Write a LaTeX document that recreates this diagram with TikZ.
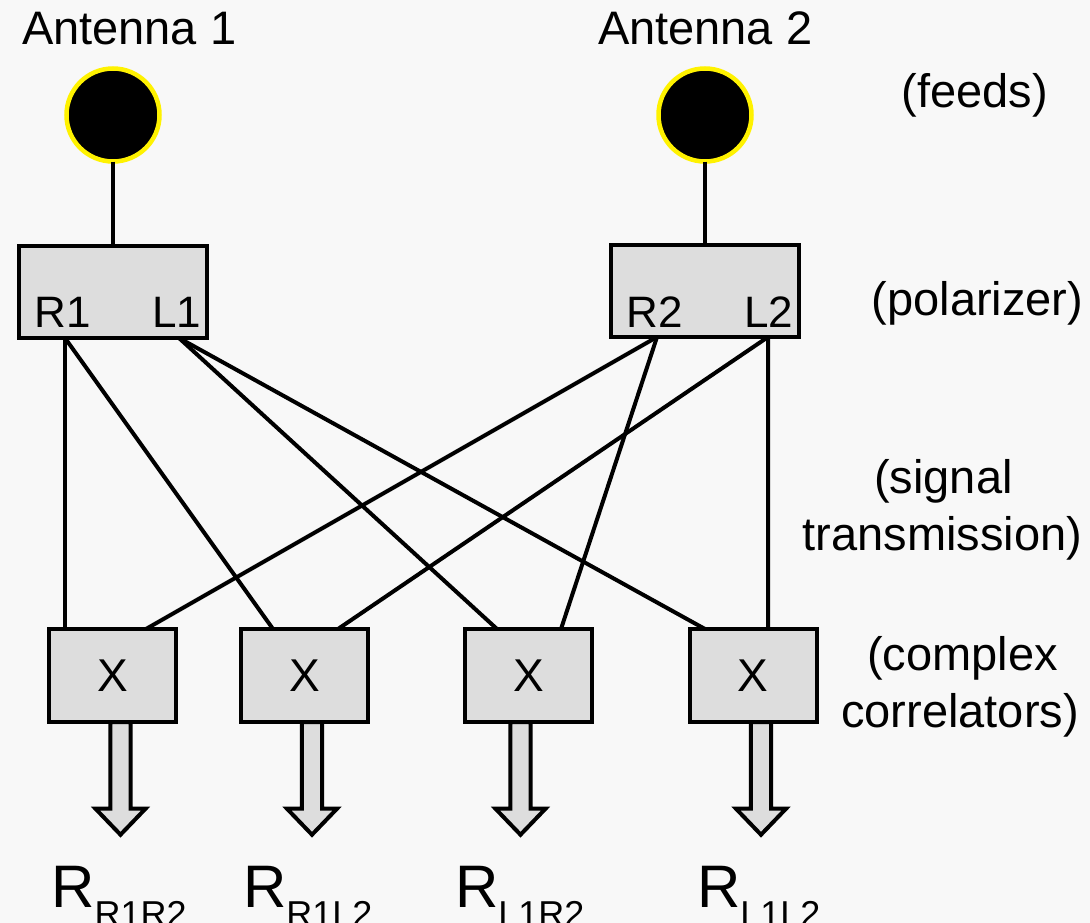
\documentclass[tikz,border=0pt]{standalone}
\usepackage{fontspec}
\setmainfont{Liberation Sans}
\definecolor{bg}{HTML}{F8F8F8}
\definecolor{boxfill}{HTML}{DDDDDD}
\begin{document}
\begin{tikzpicture}[x=1bp,y=-1bp,
  feed/.style={circle, fill=black, draw=yellow, line width=4.5bp, minimum size=93bp, inner sep=0pt, outer sep=0pt},
  polbox/.style={draw=black, fill=boxfill, line width=4bp, minimum width=188bp, minimum height=92bp, inner sep=0pt, outer sep=0pt},
  corrbox/.style={draw=black, fill=boxfill, line width=4bp, minimum width=127bp, minimum height=93bp, inner sep=0pt, outer sep=0pt, font=\fontsize{46bp}{55bp}\selectfont},
  lbl/.style={inner sep=0pt, outer sep=0pt, anchor=base, font=\fontsize{47bp}{56bp}\selectfont},
  antlbl/.style={inner sep=0pt, outer sep=0pt, anchor=base west, font=\fontsize{47bp}{56bp}\selectfont},
  port/.style={inner sep=0pt, outer sep=0pt, anchor=base west, font=\fontsize{44bp}{52bp}\selectfont},
  outlbl/.style={inner sep=0pt, outer sep=0pt, anchor=base west},
  wire/.style={draw=black, line width=4bp},
  blockarrow/.style={draw=black, fill=boxfill, line width=4bp, line join=miter}
]
\path[use as bounding box, fill=bg] (0,0) rectangle (1090,923);
\clip (0,0) rectangle (1090,923);

% antenna labels
\node[antlbl] (t1) at (22,44) {Antenna 1};
\node[antlbl] (t2) at (598,44) {Antenna 2};

% feeds
\node[feed] (a1) at (113,115) {};
\node[feed] (a2) at (705,115) {};

% polarizers
\node[polbox] (p1) at (113,292) {};
\node[polbox] (p2) at (704.5,291) {};
\node[port] (r1t) at (34.5,327) {R1};
\node[port] (l1t) at (152,327) {L1};
\node[port] (r2t) at (626.5,327) {R2};
\node[port] (l2t) at (744,327) {L2};

% correlators
\node[corrbox] (c1) at (112.5,675.5) {X};
\node[corrbox] (c2) at (304.5,675.5) {X};
\node[corrbox] (c3) at (528.5,675.5) {X};
\node[corrbox] (c4) at (753,675.5) {X};

% ports
\coordinate (R1) at ([xshift=-48bp]p1.south);
\coordinate (L1) at ([xshift=66bp]p1.south);
\coordinate (R2) at ([xshift=-47.5bp]p2.south);
\coordinate (L2) at ([xshift=63.5bp]p2.south);
\coordinate (c1a) at ([xshift=-47.5bp]c1.north);
\coordinate (c1b) at ([xshift=33.5bp]c1.north);
\coordinate (c2a) at ([xshift=-31.5bp]c2.north);
\coordinate (c2b) at ([xshift=33.5bp]c2.north);
\coordinate (c3a) at ([xshift=-31.5bp]c3.north);
\coordinate (c3b) at ([xshift=32.5bp]c3.north);
\coordinate (c4a) at ([xshift=-48bp]c4.north);
\coordinate (c4b) at ([xshift=15bp]c4.north);

% feed to polarizer
\draw[wire] (a1.south) -- (a1.south |- p1.north);
\draw[wire] (a2.south) -- (a2.south |- p2.north);

% signal transmission
\draw[wire] (R1) -- (c1a);
\draw[wire] (R1) -- (c2a);
\draw[wire] (L1) -- (c3a);
\draw[wire] (L1) -- (c4a);
\draw[wire] (R2) -- (c1b);
\draw[wire] (R2) -- (c3b);
\draw[wire] (L2) -- (c2b);
\draw[wire] (L2) -- (c4b);

% output block arrows
\foreach \c/\dx in {c1/8, c2/7.5, c3/-8, c4/8}{
  \draw[blockarrow] ([xshift=\dx bp]\c.south) ++(-10.2,0) -- ++(0,86.7) -- ++(-14.8,0)
     -- ++(25,26) -- ++(25,-26) -- ++(-14.8,0) -- ++(0,-86.7) -- cycle;
}

% output labels
\node[outlbl] (o1) at (51.3,907) {\fontsize{60bp}{72bp}\selectfont R\raisebox{-19bp}{\fontsize{36bp}{43bp}\selectfont R1R2}};
\node[outlbl] (o2) at (243,907) {\fontsize{60bp}{72bp}\selectfont R\raisebox{-19bp}{\fontsize{36bp}{43bp}\selectfont R1L2}};
\node[outlbl] (o3) at (455,907) {\fontsize{60bp}{72bp}\selectfont R\raisebox{-19bp}{\fontsize{36bp}{43bp}\selectfont L1R2}};
\node[outlbl] (o4) at (697,907) {\fontsize{60bp}{72bp}\selectfont R\raisebox{-19bp}{\fontsize{36bp}{43bp}\selectfont L1L2}};

% right-hand annotations
\node[lbl] (s1) at (975,107) {(feeds)};
\node[lbl] (s2) at (977.5,315) {(polarizer)};
\node[lbl] (s3a) at (943.5,493) {(signal};
\node[lbl] (s3b) at (942.5,550) {transmission)};
\node[lbl] (s4a) at (962.5,670) {(complex};
\node[lbl] (s4b) at (960,727) {correlators)};
\end{tikzpicture}
\end{document}
